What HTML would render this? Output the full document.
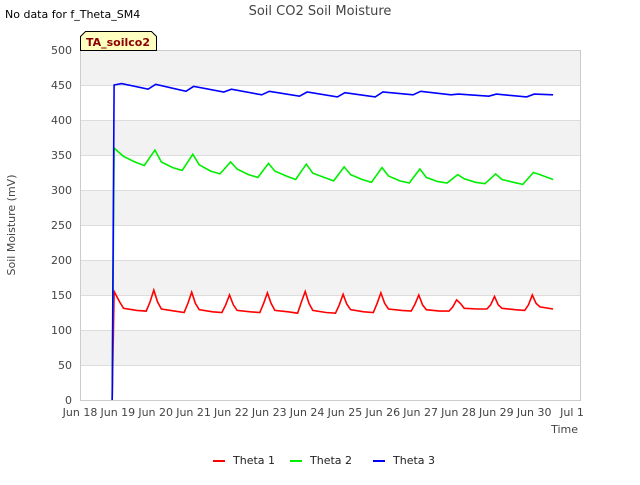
<!DOCTYPE html>
<html><head><meta charset="utf-8"><style>
body{margin:0;background:#fff;font-family:"Liberation Sans","DejaVu Sans",sans-serif}
text{font-family:"DejaVu Sans","Liberation Sans",sans-serif}
</style></head><body>
<svg id="chart" width="640" height="480" xmlns="http://www.w3.org/2000/svg">
<rect width="640" height="480" fill="#fff"/>
<text x="5" y="18" font-size="11" fill="#000">No data for f_Theta_SM4</text>
<text x="320" y="15" font-size="13" fill="#444" text-anchor="middle">Soil CO2 Soil Moisture</text>
<g id="bands"></g>
<g id="yaxis"></g>
<g id="xaxis"></g>
<g id="series"></g>
<rect x="80.5" y="50.5" width="500" height="350" fill="none" stroke="#ccc"/>
<text x="15" y="225" font-size="11" fill="#444" text-anchor="middle" transform="rotate(-90 15 225)">Soil Moisture (mV)</text>
<text x="578" y="433" font-size="11" fill="#444" text-anchor="end">Time</text>
<g>
<path d="M80.5,50.5 L80.5,36.5 L85.5,31.5 L151.5,31.5 L156.5,36.5 L156.5,50.5 Z" fill="#ffffc0" stroke="#000"/>
<text x="118" y="46" font-size="11" font-weight="bold" fill="#8b0000" text-anchor="middle">TA_soilco2</text>
</g>
<g id="legend"></g>
</svg>
<script>
const yTicks=[0,50,100,150,200,250,300,350,400,450,500];
const xTickLabels=["Jun 18","Jun 19","Jun 20","Jun 21","Jun 22","Jun 23","Jun 24","Jun 25","Jun 26","Jun 27","Jun 28","Jun 29","Jun 30","Jul 1"];
const seriesNames=["Theta 1","Theta 2","Theta 3"];
const seriesColors=["#ff0000","#00ee00","#0000ff"];
const t1=[0.85,0.9,1.05,1.15,1.5,1.75,1.85,1.95,2.05,2.15,2.5,2.75,2.85,2.95,3.05,3.15,3.5,3.75,3.85,3.95,4.05,4.15,4.5,4.75,4.85,4.95,5.05,5.15,5.5,5.75,5.85,5.95,6.05,6.15,6.5,6.75,6.85,6.95,7.05,7.15,7.5,7.75,7.85,7.95,8.05,8.15,8.5,8.75,8.85,8.95,9.05,9.15,9.5,9.75,9.85,9.95,10.05,10.15,10.5,10.75,10.85,10.95,11.05,11.15,11.5,11.75,11.85,11.95,12.05,12.15,12.5];
const v1=[0,155,140,131,128,127,140,157,140,130,127,125,138,154,138,129,126,125,136,150,136,128,126,125,138,153,138,128,126,124,140,155,138,128,125,124,136,151,137,129,126,125,138,153,138,130,128,127,137,150,136,129,127,127,133,143,138,131,130,130,136,148,136,131,129,128,136,150,138,133,130];
const t2=[0.85,0.9,1.15,1.45,1.7,1.98,2.15,2.45,2.7,2.98,3.15,3.45,3.7,3.98,4.15,4.45,4.7,4.98,5.15,5.45,5.7,5.98,6.15,6.45,6.7,6.98,7.15,7.45,7.7,7.98,8.15,8.45,8.7,8.98,9.15,9.45,9.7,9.98,10.15,10.45,10.7,10.98,11.15,11.45,11.7,11.98,12.15,12.5];
const v2=[0,360,348,340,335,357,340,332,328,351,336,327,323,340,330,322,318,338,327,320,315,337,324,318,313,333,322,315,311,332,320,313,310,330,318,312,310,322,316,311,309,323,315,311,308,325,322,315];
const t3=[0.85,0.9,1.1,1.8,2.0,2.8,3.0,3.8,4.0,4.8,5.0,5.8,6.0,6.8,7.0,7.8,8.0,8.8,9.0,9.8,10.0,10.8,11.0,11.8,12.0,12.5];
const v3=[0,450,452,444,451,441,448,440,444,436,441,434,440,433,439,433,440,436,441,436,437,434,437,433,437,436];
const NS="http://www.w3.org/2000/svg";
const X0=80,X1=580,Y0=400,Y1=50,DAYPX=37.85;
const xs=d=>X0+d*DAYPX;
const ys=v=>Y0-(v/500)*(Y0-Y1);
function mk(tag,attrs,parent){const e=document.createElementNS(NS,tag);for(const k in attrs)e.setAttribute(k,attrs[k]);parent.appendChild(e);return e;}
const bands=document.getElementById('bands');
for(let i=0;i<yTicks.length-1;i++){
  if(i%2===1){const r=mk('rect',{x:X0,y:ys(yTicks[i+1]),width:X1-X0,height:ys(yTicks[i])-ys(yTicks[i+1]),fill:'#f2f2f2'},bands);
  
  }
}
const ya=document.getElementById('yaxis');
yTicks.forEach(v=>{
  const l=mk('line',{x1:X0,x2:X1,y1:ys(v)+0.5,y2:ys(v)+0.5,stroke:'#ddd'},ya);
  
  
  const t=mk('text',{x:72,y:ys(v)+4,'font-size':11,fill:'#444','text-anchor':'end'},ya);
  t.textContent=v;
  
  
});
const xa=document.getElementById('xaxis');
xTickLabels.forEach((s,i)=>{
  const t=mk('text',{x:xs(i),y:416,'font-size':11,fill:'#444','text-anchor':'middle'},xa);
  t.textContent=s;
  
  
});
const sg=document.getElementById('series');
[[t1,v1],[t2,v2],[t3,v3]].forEach((s,i)=>{
  const pts=s[0].map((t,j)=>xs(t).toFixed(1)+','+ys(s[1][j]).toFixed(1)).join(' ');
  const p=mk('polyline',{points:pts,fill:'none',stroke:seriesColors[i],'stroke-width':1.6},sg);
  
  
});
const lg=document.getElementById('legend');
const lx=[213,290,373];
seriesNames.forEach((n,i)=>{
  const g=mk('g',{},lg);
  
  
  mk('line',{x1:lx[i],x2:lx[i]+12,y1:461,y2:461,stroke:seriesColors[i],'stroke-width':2},g);
  const t=mk('text',{x:lx[i]+20,y:464,'font-size':11,fill:'#222'},g);
  t.textContent=n;
});
</script>
</body></html>
